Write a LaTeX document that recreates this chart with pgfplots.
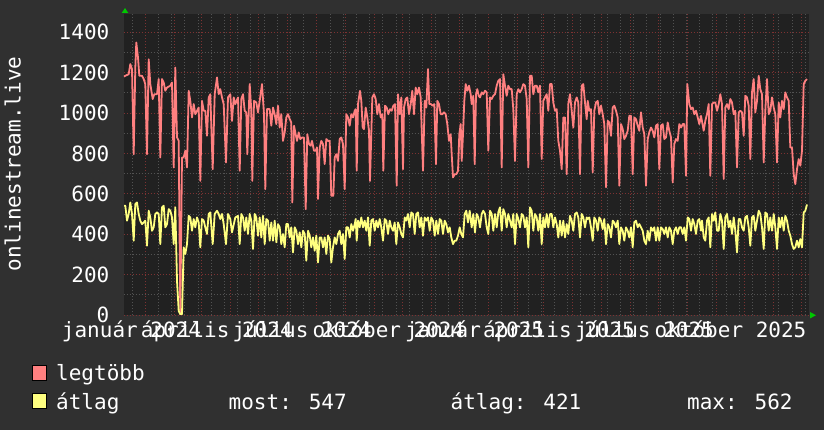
\documentclass[border=0pt]{standalone}
\usepackage{pgfplots}
\pgfplotsset{compat=1.18}
\usepackage{fontspec}
\newfontfamily\rrdfont{DejaVu Sans Mono}
\newcommand{\rrd}{\rrdfont\fontsize{21bp}{25bp}\selectfont}
\definecolor{backc}{RGB}{48,48,48}
\definecolor{canvc}{RGB}{33,33,33}
\definecolor{redc}{RGB}{255,128,128}
\definecolor{yelc}{RGB}{255,255,128}
\definecolor{mgrid}{RGB}{125,50,50}
\definecolor{ngrid}{RGB}{82,82,82}
\definecolor{arrc}{RGB}{0,200,0}
\begin{document}
\begin{tikzpicture}
\fill[backc] (0,0) rectangle (824bp,430bp);
\begin{axis}[
  at={(123.5bp,115bp)}, anchor=south west,
  scale only axis, width=685.5bp, height=301bp,
  xmin=123.5, xmax=809, ymin=0, ymax=1490,
  axis background/.style={fill=canvc},
  axis line style={draw=none},
  tick style={draw=none},
  /pgf/number format/assume math mode=true,
  xtick={145.3,174.3,201.5,230.6,258.7,287.8,315.9,345,374,402.2,431.2,459.3,488.4,517.5,543.7,572.8,600.9,630,658.1,687.1,716.2,744.3,773.4,801.5},
  xticklabels={},
  xmajorgrids,
  minor xtick={132,145.2,...,806},
  xminorgrids,
  extra x ticks={131.5,216.8,302.1,388.4,474.6,559,644.3,730.5},
  extra x tick labels={január 2024,április 2024,július 2024,október 2024,január 2025,április 2025,július 2025,október 2025},
  extra x tick style={grid=none},
  xticklabel style={anchor=base, inner sep=0pt, yshift=-23bp, text=white, font=\rrd},
  ytick={0,200,400,600,800,1000,1200,1400},
  yticklabels={0,200,400,600,800,1000,1200,1400},
  minor ytick={100,300,500,700,900,1100,1300},
  ymajorgrids, yminorgrids,
  yticklabel style={anchor=east, inner sep=0pt, xshift=-14bp, text=white, font=\rrd},
  major grid style={draw=mgrid, line width=0.8bp, dash pattern=on 1bp off 2bp},
  minor grid style={draw=ngrid, line width=0.8bp, dash pattern=on 1bp off 2bp},
]
\addplot[redc, line width=1.8bp, line join=round] coordinates {
(124,1180) (125.3,1184) (128.7,1192) (130.3,1242) (132,1217) (133.7,796) (135.3,1225) (136.3,1349) (138,1275) (139.3,1184)
(142,1184) (143.7,1168) (145.3,1143) (147,796) (148.7,1266) (150.3,1143) (152.7,1069) (154.3,1093) (157,1093) (158.7,1168)
(160.3,780) (162,1168) (163.7,1151) (165.3,1110) (167,1126) (170.3,1135) (172,1151) (173.7,730) (175.3,1225) (177,879)
(178.7,862) (180.3,4) (182,780) (183.7,780) (185.3,813) (187,730) (188.7,1110) (190.3,1060) (192,978) (193.7,1044)
(195.3,994) (198.7,1027) (200.3,664) (202,1060) (203.7,1011) (205.3,1011) (207,887) (208.7,1077) (210.3,1093) (212.7,722)
(214.7,1093) (217,1176) (218.7,1093) (220.3,1118) (222,1077) (223.7,1044) (226,755) (228,1077) (230.3,1093) (232,961)
(233.7,1077) (235.3,1044)
(238,1077) (239.7,714) (241.3,1069) (243,1093) (244.7,1011) (246.3,1003) (247.3,796) (249.7,1143) (251.3,1011) (252.3,664)
(254,1060) (256.3,1052) (258,1003) (259.7,1060) (262,1143) (264,994) (265.3,623) (267,1019) (269.7,1019) (271.3,937)
(273,1027) (274.7,994) (276.3,945) (278,1036) (279.7,928) (281.3,994) (283,862) (284.7,904) (286.3,978) (288,994)
(289.7,970) (291.3,953) (292.3,557) (294,937) (295.3,904) (297,862) (298.7,904) (300.3,871) (302.3,879) (304,879)
(305.7,524) (307.3,895) (309,846) (310.7,838) (312,862) (314,813) (315.7,813) (317,829) (318,574) (319.7,829)
(321.3,862) (323,846) (324.7,747) (326.3,871) (328,862) (329.7,862) (331.3,590) (333.3,590) (334.7,780) (336.3,796)
(338,763) (339.7,871) (341.3,879) (343,846) (344.7,623) (346.3,994) (348,978) (349.7,937) (351.3,994) (353,978) (354.7,1011)
(355.7,1019) (356.7,714) (358,1044) (360,1110) (361.3,1060) (362.7,928) (364,920) (365.7,1027) (367.3,978) (369,912)
(370,664) (372.3,1077) (374,1093) (375.7,1069) (377.3,994) (379,1044) (380.7,978) (382.3,994) (383.3,714) (385,1036)
(386.7,1027) (388.3,994) (390,1019) (391.7,1011) (393.3,1036) (395,1044) (396.7,640) (398,1093) (399.7,994) (401.3,1077)
(403,722) (404,1027) (405.7,1069) (407.3,1077) (409,994) (410.7,1044) (412.3,1110) (414,994) (415.7,1126) (417.3,1093)
(419,1126) (420.7,1077) (423,714) (424.7,1060) (426.3,1027) (428,1217) (429.3,1044) (431,1044) (432.7,1036) (434.3,1044)
(436,747) (437.3,1060) (439,1044) (440.7,994) (442.3,994) (444,1003) (445.7,994) (447.3,945) (449,862) (450.7,895)
(451.7,796) (453,681) (454.7,697) (456.3,697) (458,714) (459.3,895) (460.7,945) (461.7,763) (463,895) (464.3,1060)
(465.7,1143) (467.3,1110) (469,1135) (470.7,1093)
(471.7,1044) (473.3,1085) (474.7,747) (476,1093) (477.3,1118) (478.7,1085) (480,1077) (481.7,1102) (483.3,1093) (485,1110)
(486.7,1102) (488.3,813) (490,1077) (491.7,1069) (493.3,1085) (495,1093) (496.7,1135) (498.3,1159) (500,1168) (501.7,730)
(503.3,1192) (505,1135) (506.7,1085) (508.3,1135) (510,1118) (511.7,1118) (513.3,1019) (515,763) (516.7,1093) (518.3,1118)
(520,1102) (521.7,1118) (523.3,1143) (525,1135) (526.7,1069) (528.3,730) (530,1184) (531.7,1184) (533.3,1093) (535,1135)
(536.7,1135) (538.3,1102) (540,1135) (541.7,772) (543.3,1060) (545,1077) (546.7,1093) (548.3,1011) (550,1143) (551.7,1143)
(553.3,1052) (555,1011) (556.7,1019) (558.3,862) (560,813) (561.7,722) (563.3,978) (565,978) (566.7,697) (568.3,1044)
(570,1093) (571.7,1011) (573.3,928) (575,1052) (576.7,1077) (578.3,1052) (580,697) (581.7,1135) (583.3,1143) (585,1052) (586.7,969)
(587.7,1060) (589.3,1011) (591,1019) (592.7,706) (594.3,1011) (596,1052) (597.7,1060) (599.3,994) (601,1036) (602.7,994)
(604.3,945) (606,632) (607.7,961) (609.3,953) (611,887) (612.7,1027) (614.3,1036) (616,1011) (617.7,978) (619.3,640)
(621,945) (622.7,920) (624.3,871) (626,887) (627.7,912) (629.3,986) (631,986) (632.7,697) (634.3,978) (636,969)
(637.7,937) (639.3,912) (641,1003) (642.7,928) (644.3,895) (646,640) (647.7,871) (649.3,904) (651,928) (652.7,912)
(654.3,879) (656,937) (657.7,945) (659.3,722) (661,937) (662.7,945) (664.3,871) (666,879) (667.7,953) (669.3,912)
(671,879) (672.7,656) (674.3,846) (676,871) (677.7,862) (679.3,945) (681,928) (682.7,945) (684.3,945) (686,689)
(687.3,1143) (689.3,1044) (691,1019) (692.7,1027) (694.3,994) (696,1011) (697.7,978) (699.3,945) (701,986)
(703.7,912) (705.3,961) (707,994) (708.7,1044) (710.3,689) (712,1044) (713.7,1052) (715.3,1052) (717,1011) (718.7,1044)
(720.3,1093) (722,1044) (723.7,673) (725.3,1027) (727,1044) (728.7,1019) (730.3,1069) (732,1052) (733.7,994) (735.3,1011)
(737,730) (738.7,1003) (740.3,1011) (742,1003) (743.7,887) (745.3,1085) (747,1077) (748.7,1036) (750.3,772) (752,1102)
(753.7,1168) (755.3,1003) (757,1060) (758.7,1184) (760.3,1118) (762,1093) (763.7,755) (765.3,1011) (767,1168) (768.7,994)
(770.3,1011) (772,1077) (773.7,1027) (775.3,994) (777,755) (778.7,1052) (780.3,978) (782,1060) (783.7,1019) (785.3,1102)
(787,1077) (788.7,1060) (790.3,829) (792,829) (793.7,697) (795.3,648) (797,722) (798.7,772) (800.3,739) (802,813)
(803.7,1143) (805.3,1159) (807,1168)
};
\addplot[yelc, line width=1.8bp, line join=round] coordinates {
(124,541) (125.3,541) (127,467) (128.7,500) (130.3,557) (132,500) (133.7,368) (135.3,549) (137,557) (138.7,500)
(140.3,467) (142,450) (143.7,458) (145.3,467) (147,343) (148.7,516) (150.3,483) (152,417) (153.7,434) (155.3,500)
(157,508) (158.7,500) (160.3,351) (162,533) (163.7,541) (165.3,434) (167,450) (168.7,524) (170.3,516) (172,483)
(173.7,351) (175.3,533) (177,170) (178.7,20) (180.3,4) (182,4) (183.7,335) (185.3,302) (187,351) (188.7,491)
(190.3,483) (192,417) (193.7,475) (195.3,434) (197,483) (198.7,458) (200.3,335) (202,475) (203.7,467) (205.3,434)
(207,401) (208.7,500) (210.3,508) (212.7,351) (214.7,500) (217,516) (218.7,500) (220.3,475) (222,500) (223.7,450)
(226,351) (228,500) (230.3,475) (232,409) (235.3,483)
(238,491) (239.7,351) (241.3,500) (243,483) (244.7,417) (246.3,483) (248,401) (249.7,500) (251.3,467) (253,327)
(254.7,500) (256.3,483) (258,393) (259.7,483) (261.3,384) (263,491) (264.7,351) (266.3,475) (268,467) (269.7,368)
(271.3,458) (273,368) (274.7,467) (276.3,360) (278,450) (279.7,434) (281.3,351) (283,401) (284.7,335) (286.3,450)
(288,450) (289.7,384) (291.3,434) (293,310) (294.7,434) (296.3,417) (298,351) (299.7,409) (301.3,335) (303,417)
(304.7,401) (306.3,269) (308,417) (309.7,393) (311.3,335) (313,384) (314.7,318) (316.3,393) (318,260) (319.7,384)
(321.3,384) (323,335) (324.7,384) (326.3,302) (328,393) (329.7,376) (331.3,260) (333,335) (334.7,384) (336.3,351)
(338,401) (339.7,417) (341.3,351) (343,401) (344.7,277) (346.3,434) (348,434) (349.7,384) (351.3,450) (353,417) (354.7,450)
(355.7,475) (356.7,368) (358,467) (359.7,434) (361.3,483) (363,434) (364.7,467) (366.3,417) (368,483) (369.7,343)
(371.3,467) (373,475) (374.7,417) (376.3,467) (378,434) (379.7,475) (381.3,434) (383,368) (384.7,475) (386.3,467)
(388,401) (389.7,467) (391.3,434) (393,417) (394.7,458) (396.3,351) (398,458) (399.7,434) (401.3,401) (403,384)
(404.7,483) (406.3,467) (408,500) (409.7,434) (411.3,508) (413,500) (414.7,401) (416.3,500) (418,508) (419.7,434)
(421.3,483) (423,393) (424.7,483) (426.3,467) (428,483) (429.7,417) (431.3,483) (433,467) (434.7,393) (436.3,467)
(438,401) (439.7,475) (441.3,467) (443,401) (444.7,467) (446.3,450) (448,409) (449.7,434) (451.3,384) (453,351)
(454.7,368) (456.3,368) (458,393) (459.7,434) (461.3,401) (463,384) (464.7,500) (466.3,516) (468,458) (469.7,516)
(471.7,434) (473.3,500) (475,409) (476.7,500) (478.3,483) (480,434) (481.7,500) (483.3,516) (485,500) (486.7,434)
(488.3,401) (490,516) (491.7,500) (493.3,417) (495,500) (496.7,434) (498.3,508) (500,533) (501.7,417) (503.3,524)
(505,500) (506.7,434) (508.3,500) (510,467) (511.7,434) (513.3,500) (515,351) (516.7,500) (518.3,475) (520,434)
(521.7,500) (523.3,491) (525,434) (526.7,483) (528.3,335) (530,533) (531.7,516) (533.3,417) (535,500) (536.7,483)
(538.3,417) (540,500) (541.7,351) (543.3,483) (545,434) (546.7,500) (548.3,434) (550,500) (551.7,500) (553.3,434)
(555,483) (556.7,450) (558.3,384) (560,467) (561.7,393) (563.3,467) (565,384) (566.7,450) (568.3,401) (570,491)
(571.7,467) (573.3,417) (575,500) (576.7,508) (578.3,483) (580,384) (581.7,500) (583.3,483) (585,434) (586.7,483)
(587.7,475) (589.3,483) (591,434) (592.7,368) (594.3,483) (596,467) (597.7,417) (599.3,483) (601,467) (602.7,425)
(604.3,475) (606,351) (607.7,450) (609.3,434) (611,384) (612.7,467) (614.3,458) (616,434) (617.7,467) (619.3,351)
(621,434) (622.7,417) (624.3,368) (626,434) (627.7,417) (629.3,384) (631,434) (632.7,335) (634.3,458) (636,467)
(637.7,434) (639.3,450) (641,434) (642.7,417) (644.3,368) (646,351) (647.7,417) (649.3,368) (651,434) (652.7,417)
(654.3,434) (656,368) (657.7,434) (659.3,368) (661,434) (662.7,425) (664.3,401) (666,434) (667.7,384) (669.3,434)
(671,417) (672.7,351) (674.3,417) (676,434) (677.7,401) (679.3,434) (681,434) (682.7,401) (684.3,434) (686,368)
(687.7,483) (689.3,475) (691,417) (692.7,475) (694.3,450) (696,401) (697.7,467) (699.3,475) (701,417)
(702,467) (703.7,384) (705.3,368) (707,467) (708.7,483) (710.3,335) (712,500) (713.7,467) (715.3,508) (717,417)
(718.7,417) (720.3,500) (722,467) (723.7,327) (725.3,483) (727,500) (728.7,434) (730.3,467) (732,401) (733.7,483)
(735.3,417) (737,310) (738.7,475) (740.3,475) (742,434) (743.7,417) (745.3,483) (747,491) (748.7,434) (750.3,343)
(752,483) (753.7,491) (755.3,417) (757,467) (758.7,516) (760.3,500) (762,434) (763.7,327) (765.3,508) (767,500)
(768.7,417) (770.3,483) (772,417) (773.7,500) (775.3,434) (777,327) (778.7,483) (780.3,434) (782,483) (783.7,417)
(785.3,491) (787,467) (788.7,417) (790.3,393) (792,351) (793.7,327) (795.3,335) (797,368) (798.7,335) (800.3,376)
(802,335) (803.7,508) (805.3,516) (807,547)
};
\end{axis}
% axis arrows
\fill[arrc] (125bp,422bp) -- (121.7bp,417bp) -- (128.3bp,417bp) -- cycle;
\fill[arrc] (816bp,114.8bp) -- (810bp,118bp) -- (810bp,111.5bp) -- cycle;
% y label
\node[rotate=90, anchor=base, inner sep=0pt, text=white, font=\rrd] at (20.5bp,266bp) {onlinestream.live};
% legend
\filldraw[fill=redc, draw=black, line width=1bp] (32bp,49.5bp) rectangle (46.5bp,64bp);
\filldraw[fill=yelc, draw=black, line width=1bp] (32bp,21.5bp) rectangle (46.5bp,36bp);
\node[anchor=base west, inner sep=0pt, text=white, font=\rrd] at (56bp,49bp) {legtöbb};
\node[anchor=base west, inner sep=0pt, text=white, font=\rrd] at (56bp,21bp) {átlag};
\node[anchor=base west, inner sep=0pt, text=white, font=\rrd] at (228.5bp,21bp) {most: 547};
\node[anchor=base west, inner sep=0pt, text=white, font=\rrd] at (450.5bp,21bp) {átlag: 421};
\node[anchor=base west, inner sep=0pt, text=white, font=\rrd] at (687bp,21bp) {max: 562};
\pgfresetboundingbox
\useasboundingbox (0,0) rectangle (824bp,430bp);
\end{tikzpicture}
\end{document}
